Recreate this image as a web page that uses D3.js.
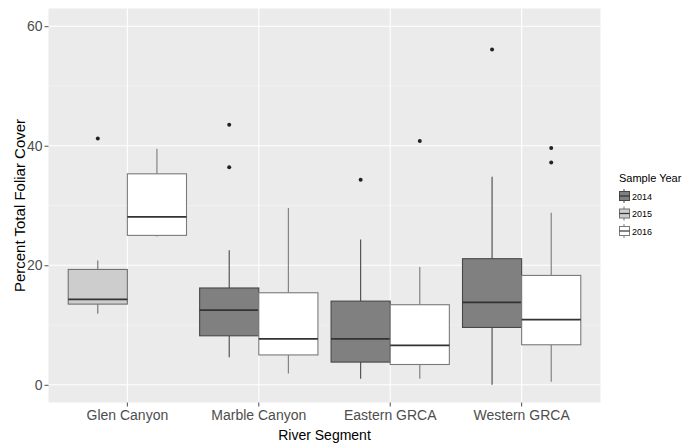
<!DOCTYPE html>
<html>
<head>
<meta charset="utf-8">
<script src="https://cdn.jsdelivr.net/npm/d3@7"></script>
<style>
  html, body { margin: 0; padding: 0; background: #ffffff; }
  svg { display: block; font-family: "Liberation Sans", Arial, sans-serif; }
</style>
</head>
<body>
<svg id="chart" width="687" height="443"></svg>
<script>
// River segments on the x axis and sample years used for fill
const segments = ["Glen Canyon", "Marble Canyon", "Eastern GRCA", "Western GRCA"];
const years = ["2014", "2015", "2016"];
const yTicks = [0, 20, 40, 60];

// One box per (segment, year) group
const groupSegment = ["Glen Canyon", "Glen Canyon", "Marble Canyon", "Marble Canyon", "Eastern GRCA", "Eastern GRCA", "Western GRCA", "Western GRCA"];
const groupYear    = ["2015", "2016", "2014", "2016", "2014", "2016", "2014", "2016"];
const whiskerLow   = [11.9, 24.8, 4.6, 1.9, 1.0, 1.0, 0.0, 0.5];
const quartile1    = [13.5, 25.0, 8.2, 5.0, 3.8, 3.4, 9.6, 6.7];
const medians      = [14.3, 28.1, 12.5, 7.7, 7.7, 6.6, 13.8, 10.9];
const quartile3    = [19.3, 35.3, 16.2, 15.4, 14.0, 13.4, 21.1, 18.3];
const whiskerHigh  = [20.8, 39.5, 22.5, 29.6, 24.3, 19.7, 34.8, 28.8];
const outliers     = [[41.2], [], [43.5, 36.4], [], [34.3], [40.8], [56.1], [39.6, 37.2]];

const fills = { "2014": "#808080", "2015": "#cdcdcd", "2016": "#ffffff" };
const strokes = { "2014": "#474747", "2015": "#707070", "2016": "#7a7a7a" };

const svg = d3.select("#chart");
const panel = { left: 48.5, right: 600.5, top: 8.5, bottom: 402.5 };

const x = d3.scaleBand()
  .domain(segments)
  .range([panel.left, panel.right])
  .paddingOuter(0.1)
  .paddingInner(0);
// band centres; boxes dodge within 0.9 of each band
const step = x.step();
const boxW = step * 0.45;

const y = d3.scaleLinear().domain([-2.96, 62.96]).range([panel.bottom, panel.top]);

// panel background
svg.append("rect")
  .attr("x", panel.left).attr("y", panel.top)
  .attr("width", panel.right - panel.left).attr("height", panel.bottom - panel.top)
  .attr("fill", "#ebebeb");

// minor grid
const minor = [10, 30, 50];
svg.append("g").selectAll("line").data(minor).join("line")
  .attr("x1", panel.left).attr("x2", panel.right)
  .attr("y1", d => y(d)).attr("y2", d => y(d))
  .attr("stroke", "#f6f6f6").attr("stroke-width", 0.6);

// major grid
svg.append("g").selectAll("line").data(yTicks).join("line")
  .attr("x1", panel.left).attr("x2", panel.right)
  .attr("y1", d => y(d)).attr("y2", d => y(d))
  .attr("stroke", "#ffffff").attr("stroke-width", 1.1);
svg.append("g").selectAll("line").data(segments).join("line")
  .attr("x1", d => x(d) + step / 2).attr("x2", d => x(d) + step / 2)
  .attr("y1", panel.top).attr("y2", panel.bottom)
  .attr("stroke", "#ffffff").attr("stroke-width", 1.1);

// boxes
const groups = groupSegment.map((s, i) => ({
  seg: s, year: groupYear[i], lo: whiskerLow[i], q1: quartile1[i], med: medians[i],
  q3: quartile3[i], hi: whiskerHigh[i], out: outliers[i]
}));

function boxX(g) {
  const siblings = groups.filter(o => o.seg === g.seg);
  const k = siblings.indexOf(g);
  const centre = x(g.seg) + step / 2;
  return centre - (siblings.length * boxW) / 2 + k * boxW;
}

const gBoxes = svg.append("g");
groups.forEach(g => {
  const bx = boxX(g);
  const cx = bx + boxW / 2;
  const s = strokes[g.year];
  const grp = gBoxes.append("g");
  grp.append("line").attr("x1", cx).attr("x2", cx).attr("y1", y(g.q3)).attr("y2", y(g.hi))
    .attr("stroke", s).attr("stroke-width", 1.1);
  grp.append("line").attr("x1", cx).attr("x2", cx).attr("y1", y(g.q1)).attr("y2", y(g.lo))
    .attr("stroke", s).attr("stroke-width", 1.1);
  grp.append("rect").attr("x", bx).attr("y", y(g.q3))
    .attr("width", boxW).attr("height", y(g.q1) - y(g.q3))
    .attr("fill", fills[g.year]).attr("stroke", s).attr("stroke-width", 1.1);
  grp.append("line").attr("x1", bx).attr("x2", bx + boxW).attr("y1", y(g.med)).attr("y2", y(g.med))
    .attr("stroke", "#333333").attr("stroke-width", 1.8);
  grp.selectAll("circle").data(g.out).join("circle")
    .attr("cx", cx).attr("cy", d => y(d)).attr("r", 2)
    .attr("fill", "#222222");
});

// y axis
const yAxis = svg.append("g").attr("transform", `translate(${panel.left},0)`)
  .call(d3.axisLeft(y).tickValues(yTicks).tickSize(4).tickPadding(2));
yAxis.select(".domain").remove();
yAxis.selectAll(".tick line").attr("stroke", "#4d4d4d");
yAxis.selectAll(".tick text").attr("fill", "#4d4d4d").attr("font-size", 14)
  .attr("font-family", "Liberation Sans, Arial, sans-serif");

// x axis
const xAxis = svg.append("g").attr("transform", `translate(0,${panel.bottom})`)
  .call(d3.axisBottom(x).tickSize(4).tickPadding(4));
xAxis.select(".domain").remove();
xAxis.selectAll(".tick line").attr("stroke", "#4d4d4d");
xAxis.selectAll(".tick text").attr("fill", "#4d4d4d").attr("font-size", 14)
  .attr("font-family", "Liberation Sans, Arial, sans-serif");

// axis titles
svg.append("text")
  .attr("x", (panel.left + panel.right) / 2).attr("y", 440)
  .attr("text-anchor", "middle").attr("font-size", 14).attr("fill", "#000")
  .text("River Segment");
svg.append("text")
  .attr("transform", `translate(25,${(panel.top + panel.bottom) / 2}) rotate(-90)`)
  .attr("text-anchor", "middle").attr("font-size", 15).attr("fill", "#000")
  .text("Percent Total Foliar Cover");

// legend
const legend = svg.append("g").attr("transform", "translate(619,0)");
legend.append("text").attr("x", 0).attr("y", 182).attr("font-size", 11).attr("fill", "#000")
  .text("Sample Year");
years.forEach((yr, i) => {
  const cy = 196 + i * 17.5;
  const k = legend.append("g");
  k.append("line").attr("x1", 5).attr("x2", 5).attr("y1", cy - 7).attr("y2", cy + 7)
    .attr("stroke", strokes[yr]).attr("stroke-width", 1);
  k.append("rect").attr("x", 0.5).attr("y", cy - 4.5).attr("width", 10).attr("height", 9)
    .attr("fill", fills[yr]).attr("stroke", strokes[yr]).attr("stroke-width", 1);
  k.append("line").attr("x1", 0.5).attr("x2", 10.5).attr("y1", cy).attr("y2", cy)
    .attr("stroke", "#333333").attr("stroke-width", 1.2);
  legend.append("text").attr("x", 13).attr("y", cy + 3.5).attr("font-size", 9).attr("fill", "#000")
    .text(yr);
});
</script>
</body>
</html>
